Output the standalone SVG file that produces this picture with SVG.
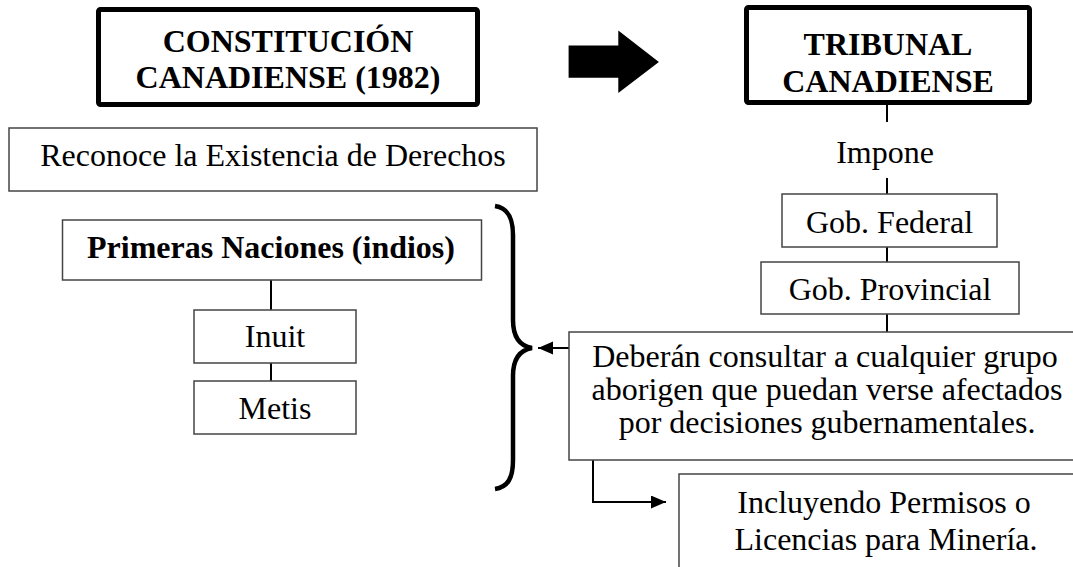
<svg xmlns="http://www.w3.org/2000/svg" width="1073" height="567" viewBox="0 0 1073 567">
<defs>
<style>
.t{font-family:"Liberation Serif","Times New Roman",serif;font-size:32px;fill:#000;text-anchor:middle}
.b{font-weight:bold}
.box{fill:#fff;stroke:#444;stroke-width:1.5}
.thick{fill:#fff;stroke:#000;stroke-width:5}
.ln{fill:none;stroke:#000;stroke-width:2}
</style>
<marker id="ah" markerUnits="userSpaceOnUse" markerWidth="16" markerHeight="14" refX="15" refY="6.5" orient="auto">
<path d="M0,0 L15,6.5 L0,13 Z" fill="#000"/>
</marker>
</defs>
<rect width="1073" height="567" fill="#fff"/>
<g id="connectors">
<line class="ln" x1="887" y1="105" x2="887" y2="122"/>
<line class="ln" x1="887" y1="178" x2="887" y2="194"/>
<line class="ln" x1="887" y1="247" x2="887" y2="262"/>
<line class="ln" x1="887" y1="314" x2="887" y2="332"/>
<line class="ln" x1="271" y1="280" x2="271" y2="310"/>
<line class="ln" x1="271" y1="363" x2="271" y2="381"/>
<line class="ln" x1="569" y1="348" x2="538" y2="348" marker-end="url(#ah)"/>
<path class="ln" d="M593,460 V502 H666" marker-end="url(#ah)"/>
<path d="M495,206 C508,208 513,218 513,235 L513,320 C513,338 520,346 532,348 C520,350 513,358 513,376 L513,460 C513,478 508,487 495,489" fill="none" stroke="#000" stroke-width="4.5"/>
<polygon points="568.6,45.6 618.3,45.6 618.3,30.4 658.9,61.9 618.3,93 618.3,77.8 568.6,77.8" fill="#000"/>
</g>
<g id="constitucion">
<rect class="thick" x="98.5" y="9.5" width="379" height="95" rx="2"/>
<text class="t b" x="288" y="52">CONSTITUCIÓN</text>
<text class="t b" x="288" y="88">CANADIENSE (1982)</text>
</g>
<g id="reconoce">
<rect class="box" x="9" y="128" width="528" height="63"/>
<text class="t" x="273" y="166">Reconoce la Existencia de Derechos</text>
</g>
<g id="primeras">
<rect class="box" x="62.5" y="220" width="419" height="60"/>
<text class="t b" x="271" y="258">Primeras Naciones (indios)</text>
</g>
<g id="inuit">
<rect class="box" x="194" y="310" width="162" height="53"/>
<text class="t" x="275" y="347">Inuit</text>
</g>
<g id="metis">
<rect class="box" x="194" y="381" width="162" height="53"/>
<text class="t" x="275" y="419">Metis</text>
</g>
<g id="tribunal">
<rect class="thick" x="746.5" y="7.5" width="283" height="95" rx="2"/>
<text class="t b" x="888" y="55">TRIBUNAL</text>
<text class="t b" x="888" y="92">CANADIENSE</text>
</g>
<g id="impone">
<text class="t" x="885" y="163">Impone</text>
</g>
<g id="federal">
<rect class="box" x="782" y="194" width="215" height="53"/>
<text class="t" x="889.5" y="233">Gob. Federal</text>
</g>
<g id="provincial">
<rect class="box" x="761" y="262" width="258" height="52"/>
<text class="t" x="890" y="300">Gob. Provincial</text>
</g>
<g id="deberan">
<rect class="box" x="569" y="332" width="516" height="128"/>
<text class="t" x="825" y="367">Deberán consultar a cualquier grupo</text>
<text class="t" x="827" y="400">aborigen que puedan verse afectados</text>
<text class="t" x="827" y="433">por decisiones gubernamentales.</text>
</g>
<g id="incluyendo">
<rect class="box" x="679" y="474" width="420" height="110"/>
<text class="t" x="884" y="513">Incluyendo Permisos o</text>
<text class="t" x="886" y="550">Licencias para Minería.</text>
</g>
</svg>
